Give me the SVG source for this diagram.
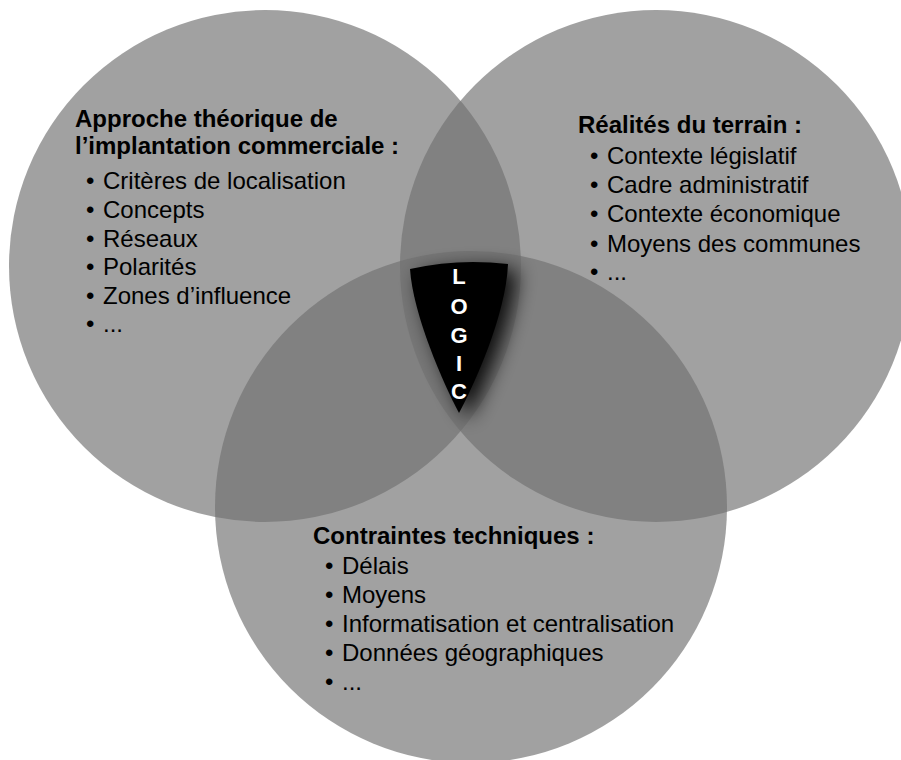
<svg xmlns="http://www.w3.org/2000/svg" width="901" height="760" viewBox="0 0 901 760">
<defs>
<style>
.c{fill:#707070;fill-opacity:0.66}
.t{font-family:"Liberation Sans",Arial,sans-serif;font-size:24px;fill:#000}
.b{font-weight:bold}
.l{font-family:"Liberation Sans",Arial,sans-serif;font-size:22px;font-weight:bold;fill:#fff;text-anchor:middle}
</style>
<filter id="sh" x="-60%" y="-40%" width="220%" height="180%">
<feGaussianBlur in="SourceAlpha" stdDeviation="10"/>
<feOffset dx="9" dy="6" result="o"/>
<feComponentTransfer><feFuncA type="linear" slope="0.9"/></feComponentTransfer>
<feMerge><feMergeNode/><feMergeNode in="SourceGraphic"/></feMerge>
</filter>
</defs>
<rect width="901" height="760" fill="#fff"/>
<g id="theorie">
<circle class="c" cx="265" cy="266" r="256"/>
</g>
<g id="terrain">
<circle class="c" cx="656" cy="266" r="256"/>
</g>
<g id="contraintes">
<circle class="c" cx="471" cy="507" r="256"/>
</g>
<g id="logic">
<path filter="url(#sh)" fill="#000" d="M410,269 Q458,258 508,264 C506,315 474,385 459,413 C444,385 413,315 410,269 Z"/>
<text class="l" x="459" y="284">L</text>
<text class="l" x="459" y="314">O</text>
<text class="l" x="459" y="343">G</text>
<text class="l" x="459" y="371">I</text>
<text class="l" x="459" y="399">C</text>
</g>
<g id="theorie-text" class="t">
<text class="b" x="75" y="127">Approche théorique de</text>
<text class="b" x="75" y="154">l’implantation commerciale :</text>
<text x="86" y="189">•</text><text x="103" y="189">Critères de localisation</text>
<text x="86" y="218">•</text><text x="103" y="218">Concepts</text>
<text x="86" y="247">•</text><text x="103" y="247">Réseaux</text>
<text x="86" y="275">•</text><text x="103" y="275">Polarités</text>
<text x="86" y="304">•</text><text x="103" y="304">Zones d’influence</text>
<text x="86" y="332">•</text><text x="103" y="332">...</text>
</g>
<g id="terrain-text" class="t">
<text class="b" x="578" y="133">Réalités du terrain :</text>
<text x="590" y="164">•</text><text x="607" y="164">Contexte législatif</text>
<text x="590" y="193">•</text><text x="607" y="193">Cadre administratif</text>
<text x="590" y="222">•</text><text x="607" y="222">Contexte économique</text>
<text x="590" y="252">•</text><text x="607" y="252">Moyens des communes</text>
<text x="590" y="280">•</text><text x="607" y="280">...</text>
</g>
<g id="contraintes-text" class="t">
<text class="b" x="313" y="544">Contraintes techniques :</text>
<text x="325" y="574">•</text><text x="342" y="574">Délais</text>
<text x="325" y="603">•</text><text x="342" y="603">Moyens</text>
<text x="325" y="632">•</text><text x="342" y="632">Informatisation et centralisation</text>
<text x="325" y="661">•</text><text x="342" y="661">Données géographiques</text>
<text x="325" y="690">•</text><text x="342" y="690">...</text>
</g>
</svg>
